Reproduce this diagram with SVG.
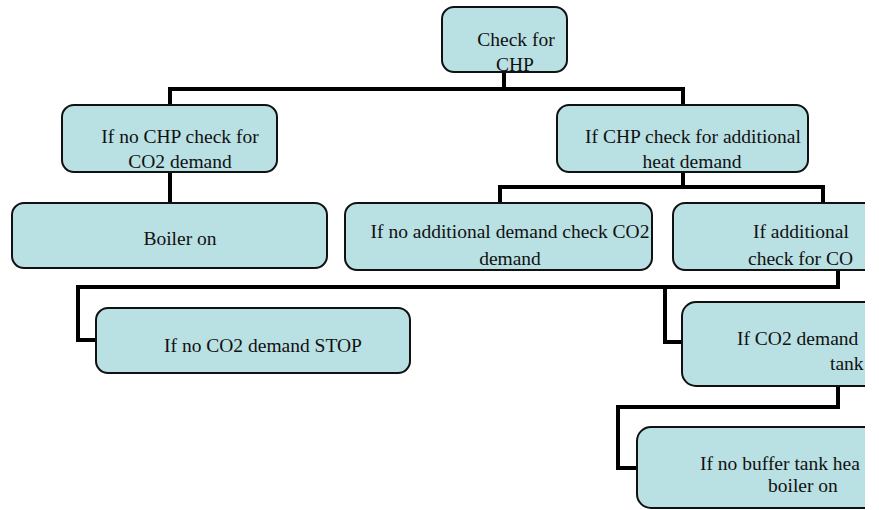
<svg xmlns="http://www.w3.org/2000/svg" width="879" height="510" viewBox="0 0 879 510">
<defs>
<clipPath id="clip"><rect x="0" y="0" width="865" height="510"/></clipPath>
<style>
.box{fill:#b9e0e3;stroke:#111;stroke-width:2}
text{font-family:'Liberation Serif','Times New Roman',serif;font-size:19.5px;fill:#111}
.m{text-anchor:middle}
.c{fill:none;stroke:#000;stroke-width:4;stroke-linejoin:miter;stroke-linecap:square}
</style>
</defs>
<rect x="0" y="0" width="879" height="510" fill="#fff"/>
<g clip-path="url(#clip)">
<g id="connectors">
<path class="c" d="M504,72 V89 M170,105 V89 H683 V105"/>
<path class="c" d="M170,172 V203"/>
<path class="c" d="M683,172 V187 M500,203 V187 H823 V203"/>
<path class="c" d="M838,270 V287 H78 V340 H96 M665,287 V342 H682"/>
<path class="c" d="M838,386 V407 H618 V468 H637"/>
</g>
<g id="n1"><rect class="box" x="442" y="7" width="125" height="65" rx="12"/>
<text class="m" x="516" y="46">Check for</text><text class="m" x="515" y="71">CHP</text></g>
<g id="n2"><rect class="box" x="62" y="105" width="215" height="67" rx="12"/>
<text class="m" x="180" y="143">If no CHP check for</text><text class="m" x="180" y="168">CO2 demand</text></g>
<g id="n3"><rect class="box" x="12" y="203" width="315" height="65" rx="12"/>
<text class="m" x="180" y="245">Boiler on</text></g>
<g id="n4"><rect class="box" x="557" y="105" width="251" height="67" rx="12"/>
<text class="m" x="693" y="143">If CHP check for additional</text><text class="m" x="692" y="168">heat demand</text></g>
<g id="n5"><rect class="box" x="345" y="203" width="307" height="67" rx="12"/>
<text class="m" x="510" y="238">If no additional demand check CO2</text><text class="m" x="510" y="265">demand</text></g>
<g id="n6"><rect class="box" x="673" y="203" width="260" height="67" rx="12"/>
<text x="753" y="238">If additional</text><text x="748" y="265">check for CO</text></g>
<g id="n7"><rect class="box" x="96" y="308" width="314" height="65" rx="12"/>
<text class="m" x="263" y="352">If no CO2 demand STOP</text></g>
<g id="n8"><rect class="box" x="682" y="302" width="260" height="84" rx="14"/>
<text x="737" y="345">If CO2 demand</text><text x="830" y="370">tank</text></g>
<g id="n9"><rect class="box" x="637" y="427" width="300" height="81" rx="14"/>
<text x="700" y="470">If no buffer tank hea</text><text x="768" y="492">boiler on</text></g>
</g>
</svg>
